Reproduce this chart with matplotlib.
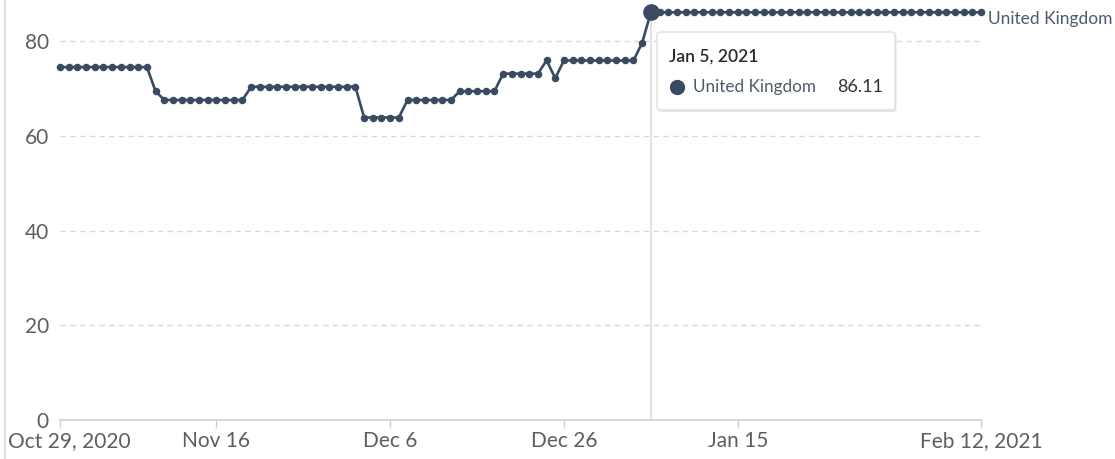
import matplotlib
matplotlib.use("Agg")
import matplotlib.pyplot as plt
import matplotlib.transforms as mtransforms
from matplotlib.patches import FancyBboxPatch
import pandas as pd

plt.rcParams['font.family'] = ['Lato', 'DejaVu Sans']

# ---- data ----
start_date = "2020-10-29"
end_date = "2021-02-12"
country = "United Kingdom"
stringency = (
    [74.54] * 11 + [69.44] + [67.59] * 10 + [70.37] * 13 + [63.89] * 5 +
    [67.59] * 6 + [69.44] * 5 + [73.15] * 5 + [75.93] + [72.22] +
    [75.93] * 9 + [79.63] + [86.11] * 39
)
y_ticks = [0, 20, 40, 60, 80]
x_tick_dates = ["2020-10-29", "2020-11-16", "2020-12-06", "2020-12-26",
                "2021-01-15", "2021-02-12"]
x_tick_labels = ["Oct 29, 2020", "Nov 16", "Dec 6", "Dec 26", "Jan 15", "Feb 12, 2021"]
hover_date = "2021-01-05"
hover_label = "Jan 5, 2021"
hover_value = 86.11

dates = pd.date_range(start_date, end_date, freq="D")

W, H = 1115, 459
fig = plt.figure(figsize=(W / 100, H / 100), dpi=100)
ax = fig.add_axes([60 / W, (H - 420) / H, (981 - 60) / W, (420 - 12.3) / H])

line_color = "#3a4a63"
grid_color = "#d9d9d9"
text_gray = "#5e5e5e"

ax.plot(dates, stringency, color=line_color, lw=1.9, marker="o", ms=4.4,
        zorder=3, clip_on=False)

ax.set_xlim(pd.Timestamp(start_date), pd.Timestamp(end_date))
ax.set_ylim(0, hover_value)

# spines
for s in ["top", "right", "left"]:
    ax.spines[s].set_visible(False)
ax.spines["bottom"].set_color("#cfcfcf")
ax.spines["bottom"].set_linewidth(1.2)

ax.set_yticks(y_ticks)
ax.set_yticklabels([str(v) for v in y_ticks])
ax.tick_params(axis="y", length=0, pad=8, labelsize=15, labelcolor=text_gray)
for v in y_ticks[1:]:
    ax.axhline(v, color=grid_color, lw=1, ls=(0, (4, 3)), zorder=1)

ax.set_xticks(pd.to_datetime(x_tick_dates))
ax.set_xticklabels(x_tick_labels)
ax.tick_params(axis="x", length=6, width=1, color="#cfcfcf", pad=2,
               labelsize=15, labelcolor=text_gray)
labels = ax.get_xticklabels()
labels[0].set_transform(labels[0].get_transform() +
                        mtransforms.ScaledTranslation(9 / 100, 0, fig.dpi_scale_trans))

# hover line
hx = pd.Timestamp(hover_date)
ax.axvline(hx, color="#dddddd", lw=1.2, zorder=2)
ax.plot([hx], [hover_value], marker="o", ms=11, color=line_color, zorder=4,
        clip_on=False)

# series label at end
ax.annotate(country, xy=(dates[-1], stringency[-1]), xytext=(5, -5),
            textcoords="offset points", ha="left", va="center",
            fontsize=12.5, color="#4d5a6e", annotation_clip=False)

# left frame line
fig.add_artist(plt.Line2D([5 / W, 5 / W], [0, 1], color="#d8d8d8", lw=1.2))

# tooltip
bx0, bx1, by0, by1 = 657, 895, 32, 110
shadow = FancyBboxPatch((bx0 / W + 1.5 / W, 1 - by1 / H - 2 / H),
                        (bx1 - bx0) / W, (by1 - by0) / H,
                        boxstyle="round,pad=0,rounding_size=0.004",
                        transform=fig.transFigure, facecolor="#e6e6e6",
                        edgecolor="none", zorder=9)
fig.add_artist(shadow)
box = FancyBboxPatch((bx0 / W, 1 - by1 / H), (bx1 - bx0) / W, (by1 - by0) / H,
                     boxstyle="round,pad=0,rounding_size=0.004",
                     transform=fig.transFigure, facecolor="white",
                     edgecolor="#e0e0e0", lw=1, zorder=10)
fig.add_artist(box)
fig.text(669 / W, 1 - 57 / H, hover_label, fontsize=12.5, fontweight="semibold",
         color="#2b2b2b", va="center", ha="left", zorder=11)
fig.add_artist(plt.Line2D([677 / W], [1 - 87 / H], marker="o", ms=10,
                          color=line_color, zorder=11))
fig.text(693 / W, 1 - 87 / H, country, fontsize=12.3, color="#4d5a6e",
         va="center", ha="left", zorder=11)
fig.text(883 / W, 1 - 87 / H, f"{hover_value:.2f}", fontsize=13, color="#333333",
         va="center", ha="right", zorder=11)

fig.savefig("out.png", dpi=100, facecolor="white")
